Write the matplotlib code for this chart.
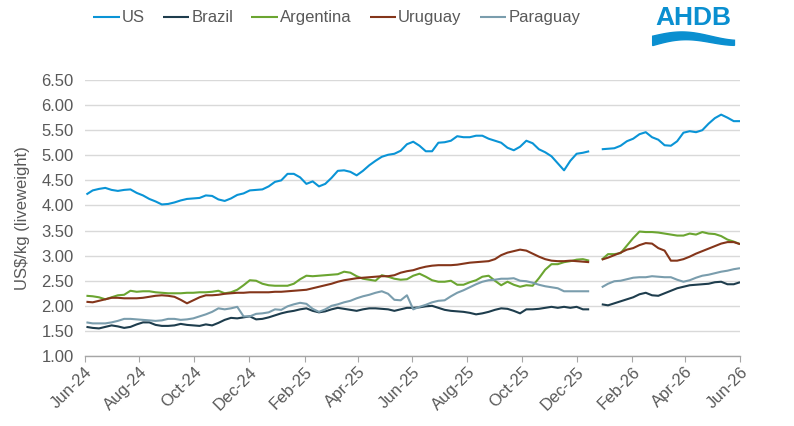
import numpy as np
import pandas as pd
import matplotlib
matplotlib.use("Agg")
import matplotlib.pyplot as plt
import matplotlib.dates as mdates
from matplotlib.patches import Polygon

nan = np.nan
start_date = "2024-06-03"
n_weeks = 105

us = [4.22, 4.30, 4.33, 4.35, 4.31, 4.29, 4.31, 4.32, 4.25, 4.20,
      4.13, 4.08, 4.02, 4.03, 4.06, 4.10, 4.13, 4.14, 4.15, 4.20,
      4.19, 4.12, 4.09, 4.14, 4.21, 4.24, 4.30, 4.31, 4.32, 4.38,
      4.47, 4.50, 4.63, 4.63, 4.56, 4.43, 4.48, 4.38, 4.43, 4.55,
      4.69, 4.70, 4.67, 4.60, 4.69, 4.80, 4.89, 4.97, 5.01, 5.03,
      5.09, 5.22, 5.27, 5.19, 5.08, 5.08, 5.25, 5.26, 5.29, 5.38,
      5.36, 5.36, 5.39, 5.39, 5.33, 5.29, 5.25, 5.15, 5.10, 5.17,
      5.29, 5.24, 5.12, 5.06, 4.98, 4.84, 4.70, 4.89, 5.03, 5.05,
      5.08, nan, 5.12, 5.13, 5.14, 5.19, 5.28, 5.33, 5.42, 5.46,
      5.36, 5.31, 5.20, 5.19, 5.28, 5.45, 5.48, 5.46, 5.50, 5.63,
      5.74, 5.81, 5.75, 5.68, 5.68]

brazil = [1.58, 1.56, 1.55, 1.58, 1.61, 1.59, 1.56, 1.58, 1.63, 1.67,
          1.67, 1.62, 1.60, 1.60, 1.61, 1.64, 1.62, 1.61, 1.60, 1.63,
          1.61, 1.66, 1.72, 1.76, 1.75, 1.77, 1.79, 1.73, 1.74, 1.77,
          1.81, 1.85, 1.88, 1.90, 1.93, 1.95, 1.90, 1.87, 1.89, 1.93,
          1.96, 1.94, 1.92, 1.90, 1.93, 1.95, 1.95, 1.94, 1.93, 1.90,
          1.93, 1.96, 1.96, 1.97, 1.99, 2.00, 1.96, 1.92, 1.90, 1.89,
          1.88, 1.86, 1.83, 1.85, 1.88, 1.92, 1.95, 1.94, 1.90, 1.85,
          1.93, 1.93, 1.94, 1.96, 1.98, 1.96, 1.98, 1.96, 1.98, 1.93,
          1.93, nan, 2.03, 2.01, 2.05, 2.09, 2.13, 2.17, 2.23, 2.26,
          2.21, 2.20, 2.25, 2.30, 2.35, 2.38, 2.41, 2.42, 2.43, 2.44,
          2.47, 2.48, 2.43, 2.43, 2.47]

argentina = [2.20, 2.19, 2.17, 2.13, 2.17, 2.21, 2.22, 2.30, 2.28, 2.29,
             2.29, 2.27, 2.26, 2.25, 2.25, 2.25, 2.26, 2.26, 2.27, 2.27,
             2.28, 2.30, 2.25, 2.27, 2.32, 2.41, 2.51, 2.50, 2.44, 2.41,
             2.40, 2.40, 2.40, 2.44, 2.53, 2.60, 2.59, 2.60, 2.61, 2.62,
             2.63, 2.68, 2.66, 2.59, 2.54, 2.52, 2.50, 2.61, 2.58, 2.54,
             2.52, 2.53, 2.60, 2.64, 2.58, 2.51, 2.48, 2.48, 2.50, 2.42,
             2.42, 2.47, 2.51, 2.58, 2.60, 2.50, 2.41, 2.48, 2.42, 2.38,
             2.41, 2.40, 2.55, 2.72, 2.83, 2.83, 2.87, 2.89, 2.92, 2.93,
             2.90, nan, 2.92, 3.03, 3.03, 3.05, 3.20, 3.35, 3.48, 3.47,
             3.47, 3.46, 3.44, 3.42, 3.40, 3.40, 3.44, 3.42, 3.47, 3.44,
             3.43, 3.39, 3.32, 3.28, 3.23]

uruguay = [2.08, 2.07, 2.10, 2.13, 2.16, 2.16, 2.15, 2.15, 2.15, 2.16,
           2.18, 2.20, 2.21, 2.20, 2.18, 2.12, 2.05, 2.11, 2.17, 2.21,
           2.21, 2.22, 2.24, 2.25, 2.26, 2.26, 2.27, 2.27, 2.27, 2.27,
           2.28, 2.28, 2.29, 2.30, 2.31, 2.32, 2.35, 2.38, 2.41, 2.44,
           2.48, 2.51, 2.53, 2.55, 2.56, 2.57, 2.58, 2.59, 2.59, 2.61,
           2.66, 2.69, 2.71, 2.75, 2.78, 2.80, 2.81, 2.81, 2.81, 2.82,
           2.84, 2.86, 2.87, 2.88, 2.89, 2.93, 3.01, 3.06, 3.09, 3.12,
           3.10, 3.04, 2.98, 2.93, 2.90, 2.89, 2.89, 2.90, 2.89, 2.88,
           2.87, nan, 2.92, 2.96, 3.01, 3.06, 3.12, 3.15, 3.21, 3.25,
           3.24, 3.15, 3.10, 2.90, 2.90, 2.93, 2.98, 3.04, 3.09, 3.14,
           3.19, 3.24, 3.27, 3.27, 3.23]

paraguay = [1.67, 1.65, 1.65, 1.65, 1.67, 1.70, 1.74, 1.74, 1.73, 1.72,
            1.71, 1.70, 1.71, 1.74, 1.74, 1.72, 1.73, 1.75, 1.79, 1.83,
            1.88, 1.95, 1.93, 1.95, 1.98, 1.79, 1.79, 1.84, 1.85, 1.87,
            1.93, 1.92, 1.99, 2.03, 2.06, 2.04, 1.94, 1.88, 1.93, 2.00,
            2.03, 2.07, 2.10, 2.15, 2.19, 2.22, 2.26, 2.29, 2.24, 2.12,
            2.11, 2.21, 1.93, 1.98, 2.02, 2.07, 2.10, 2.11, 2.19, 2.26,
            2.31, 2.37, 2.43, 2.48, 2.51, 2.52, 2.54, 2.54, 2.55, 2.50,
            2.49, 2.46, 2.42, 2.39, 2.37, 2.35, 2.29, 2.29, 2.29, 2.29,
            2.29, nan, 2.37, 2.44, 2.49, 2.50, 2.53, 2.56, 2.57, 2.57,
            2.59, 2.58, 2.57, 2.57, 2.52, 2.48, 2.51, 2.56, 2.60, 2.62,
            2.65, 2.68, 2.70, 2.73, 2.75]

series_names = ["US", "Brazil", "Argentina", "Uruguay", "Paraguay"]
series_colors = ["#0A94D6", "#1E3D4D", "#6BA531", "#84351A", "#7A9DAD"]
y_ticks = [1.00, 1.50, 2.00, 2.50, 3.00, 3.50, 4.00, 4.50, 5.00, 5.50, 6.00, 6.50]
y_label = "US$/kg (liveweight)"

dates = pd.date_range(start_date, periods=n_weeks, freq="7D")

font = ["Liberation Sans", "DejaVu Sans"]
plt.rcParams["font.family"] = font
grey = "#595959"

fig = plt.figure(figsize=(7.94, 4.26), dpi=100)
ax = fig.add_axes([0.1066, 0.1643, 0.932 - 0.1066, 0.8122 - 0.1643])

for name, vals, col in zip(series_names, [us, brazil, argentina, uruguay, paraguay], series_colors):
    ax.plot(dates, vals, color=col, lw=1.5, label=name, solid_capstyle="butt")

ax.set_ylim(1.0, 6.5)
ax.set_yticks(y_ticks)
ax.set_yticklabels([f"{v:.2f}" for v in y_ticks])
ax.set_xlim(pd.Timestamp("2024-06-01"), pd.Timestamp("2026-06-01"))
ax.xaxis.set_major_locator(mdates.MonthLocator(bymonth=[2, 4, 6, 8, 10, 12]))
ax.xaxis.set_major_formatter(mdates.DateFormatter("%b-%y"))

ax.grid(axis="y", color="#D9D9D9", lw=1)
ax.set_axisbelow(True)
for s in ["top", "right", "left"]:
    ax.spines[s].set_visible(False)
ax.spines["bottom"].set_color("#A6A6A6")
ax.spines["bottom"].set_linewidth(1)
ax.tick_params(axis="y", length=0, labelsize=12, labelcolor=grey, pad=8)
ax.tick_params(axis="x", length=4, color="#A6A6A6", labelsize=12, labelcolor=grey, pad=2)
for lab in ax.get_xticklabels():
    lab.set_rotation(45)
    lab.set_ha("right")
    lab.set_va("top")
    lab.set_rotation_mode("anchor")

ax.set_ylabel(y_label, fontsize=12, color=grey, labelpad=8)

leg = fig.legend(loc="center", bbox_to_anchor=(0.424, 0.958), ncol=5, frameon=False,
                 fontsize=12, handlelength=1.6, handletextpad=0.1, columnspacing=1.1)
for t in leg.get_texts():
    t.set_color(grey)

# AHDB logo
fig.text(0.873, 0.958, "AHDB", color="#0A8FD0", fontsize=19, fontweight="bold",
         ha="center", va="center", family=["Liberation Sans Narrow", "Liberation Sans", "DejaVu Sans"])
xs = np.linspace(0.822, 0.925, 40)
top = 0.915 + 0.010 * np.sin((xs - 0.822) / 0.103 * np.pi * 1.4)
bot = top - 0.022 + 0.010 * (xs - 0.822) / 0.103
poly = np.vstack([np.column_stack([xs, top]), np.column_stack([xs[::-1], bot[::-1]])])
fig.patches.append(Polygon(poly, closed=True, transform=fig.transFigure, color="#0A8FD0"))

fig.savefig("out.png", dpi=100)
